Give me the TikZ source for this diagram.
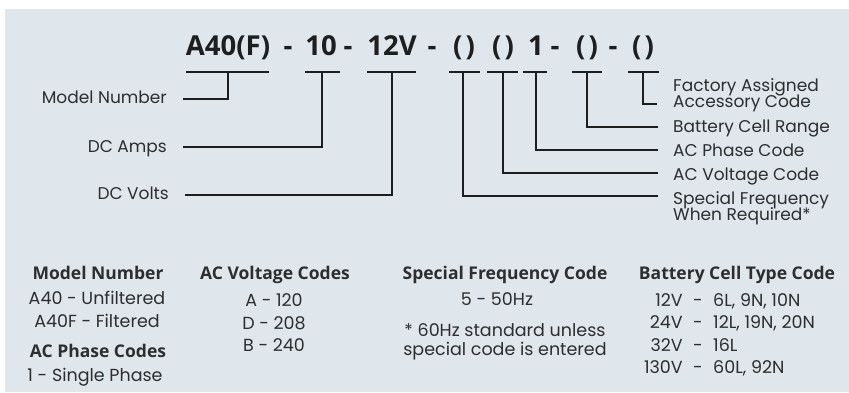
\documentclass[tikz,border=0pt]{standalone}
\usepackage{fontspec}
\setmainfont{Poppins}
\newfontfamily\hfont{Open Sans}
\definecolor{bg}{HTML}{DFE6EC}
\definecolor{txt}{HTML}{2E2E2E}
\definecolor{lc}{HTML}{1E1E1E}
\newcommand\lblfont{\fontsize{17}{15.5}\selectfont\lineskiplimit -20pt\relax}
\begin{document}
\begin{tikzpicture}[x=1pt,y=-1pt,
  ln/.style={line width=1.7pt,draw=lc},
  lbl/.style={font=\lblfont,text=txt,inner sep=0pt},
  lblr/.style={lbl,anchor=base west,align=left},
  lbl2/.style={lbl,anchor=north west,align=left},
  lbll/.style={lbl,anchor=base east},
  ttl/.style={font=\hfont\bfseries\fontsize{27.5}{30}\selectfont,text=lc,inner sep=0pt,anchor=base},
  hd/.style={font=\hfont\bfseries\fontsize{17.5}{19}\selectfont,text=txt,inner sep=0pt,anchor=base},
  cell/.style={font=\fontsize{17.5}{19}\selectfont,text=txt,inner sep=0pt,anchor=base}]
\useasboundingbox (0,0) rectangle (849,393);
\fill[bg] (5,9) rectangle (849,392);
% title tokens
\node[ttl] (t1) at (228,56) {A40(F)};
\node[ttl] (d1) at (288,56) {-};
\node[ttl] (t2) at (321,56) {10};
\node[ttl] (d2) at (348,56) {-};
\node[ttl] (t3) at (392,56) {12V};
\node[ttl] (d3) at (432,56) {-};
\node[ttl] (t4) at (464,56) {(\hspace{3pt})};
\node[ttl] (t5) at (503,56) {(\hspace{3pt})};
\node[ttl] (t6) at (536,56) {1};
\node[ttl] (d4) at (555,56) {-};
\node[ttl] (t7) at (587,56) {(\hspace{3pt})};
\node[ttl] (d5) at (613,56) {-};
\node[ttl] (t8) at (643,56) {(\hspace{3pt})};
% bars
\draw[ln] (186,72) -- (269,72);
\draw[ln] (305,72) -- (340,72);
\draw[ln] (367,72) -- (416,72);
\draw[ln] (449,72) -- (480,72);
\draw[ln] (487,72) -- (518,72);
\draw[ln] (523,72) -- (547,72);
\draw[ln] (572,72) -- (602,72);
\draw[ln] (628,72) -- (659,72);
\coordinate (b1) at (228,72);
\coordinate (b2) at (322,72);
\coordinate (b3) at (392,72);
\coordinate (b4) at (463,72);
\coordinate (b5) at (503,72);
\coordinate (b6) at (536,72);
\coordinate (b7) at (587,72);
\coordinate (b8) at (643,72);
% left labels
\node[lbll] (mn) at (167,104) {Model Number};
\node[lbll] (da) at (167,153) {DC Amps};
\node[lbll] (dv) at (169,200) {DC Volts};
\coordinate (e1) at (183,99);
\coordinate (e2) at (183,147);
\coordinate (e3) at (185,195);
\draw[ln] (b1) |- (e1);
\draw[ln] (b2) |- (e2);
\draw[ln] (b3) |- (e3);
% right labels
\node[lbl2] (fa) at (673,78.5) {Factory Assigned\\Accessory Code};
\node[lblr] (bc) at (673,133) {Battery Cell Range};
\node[lblr] (ap) at (673,157) {AC Phase Code};
\node[lblr] (av) at (673,180) {AC Voltage Code};
\node[lbl2] (sf) at (673,191.5) {Special Frequency\\When Required*};
\coordinate (e8) at (657,104);
\coordinate (e7) at (658,127);
\coordinate (e6) at (658,150);
\coordinate (e5) at (658,173);
\coordinate (e4) at (658,196);
\draw[ln] (b8) |- (e8);
\draw[ln] (b7) |- (e7);
\draw[ln] (b6) |- (e6);
\draw[ln] (b5) |- (e5);
\draw[ln] (b4) |- (e4);
% lower tables
\node[hd] (h1) at (98,279) {Model Number};
\node[cell] (m1) at (97,304) {A40 - Unfiltered};
\node[cell] (m2) at (97,327) {A40F - Filtered};
\node[hd] (h2) at (98,357) {AC Phase Codes};
\node[cell] (p1) at (95,381) {1 - Single Phase};
\node[hd] (h3) at (275,279) {AC Voltage Codes};
\node[cell] (v1) at (274,306) {A - 120};
\node[cell] (v2) at (274,329) {D - 208};
\node[cell] (v3) at (274,351) {B - 240};
\node[hd] (h4) at (505,279) {Special Frequency Code};
\node[cell] (f1) at (497,305) {5 - 50Hz};
\node[cell] (f2) at (505,336) {* 60Hz standard unless};
\node[cell] (f3) at (505,355) {special code is entered};
\node[hd] (h5) at (737,279) {Battery Cell Type Code};
\node[cell,anchor=base east] (c1a) at (683,306) {12V};
\node[cell,anchor=base] (c1b) at (698,306) {-};
\node[cell,anchor=base west] (c1c) at (713,306) {6L, 9N, 10N};
\node[cell,anchor=base east] (c2a) at (683,328) {24V};
\node[cell,anchor=base] (c2b) at (698,328) {-};
\node[cell,anchor=base west] (c2c) at (713,328) {12L, 19N, 20N};
\node[cell,anchor=base east] (c3a) at (683,351) {32V};
\node[cell,anchor=base] (c3b) at (698,351) {-};
\node[cell,anchor=base west] (c3c) at (713,351) {16L};
\node[cell,anchor=base east] (c4a) at (683,373) {130V};
\node[cell,anchor=base] (c4b) at (698,373) {-};
\node[cell,anchor=base west] (c4c) at (713,373) {60L, 92N};
\end{tikzpicture}
\end{document}
